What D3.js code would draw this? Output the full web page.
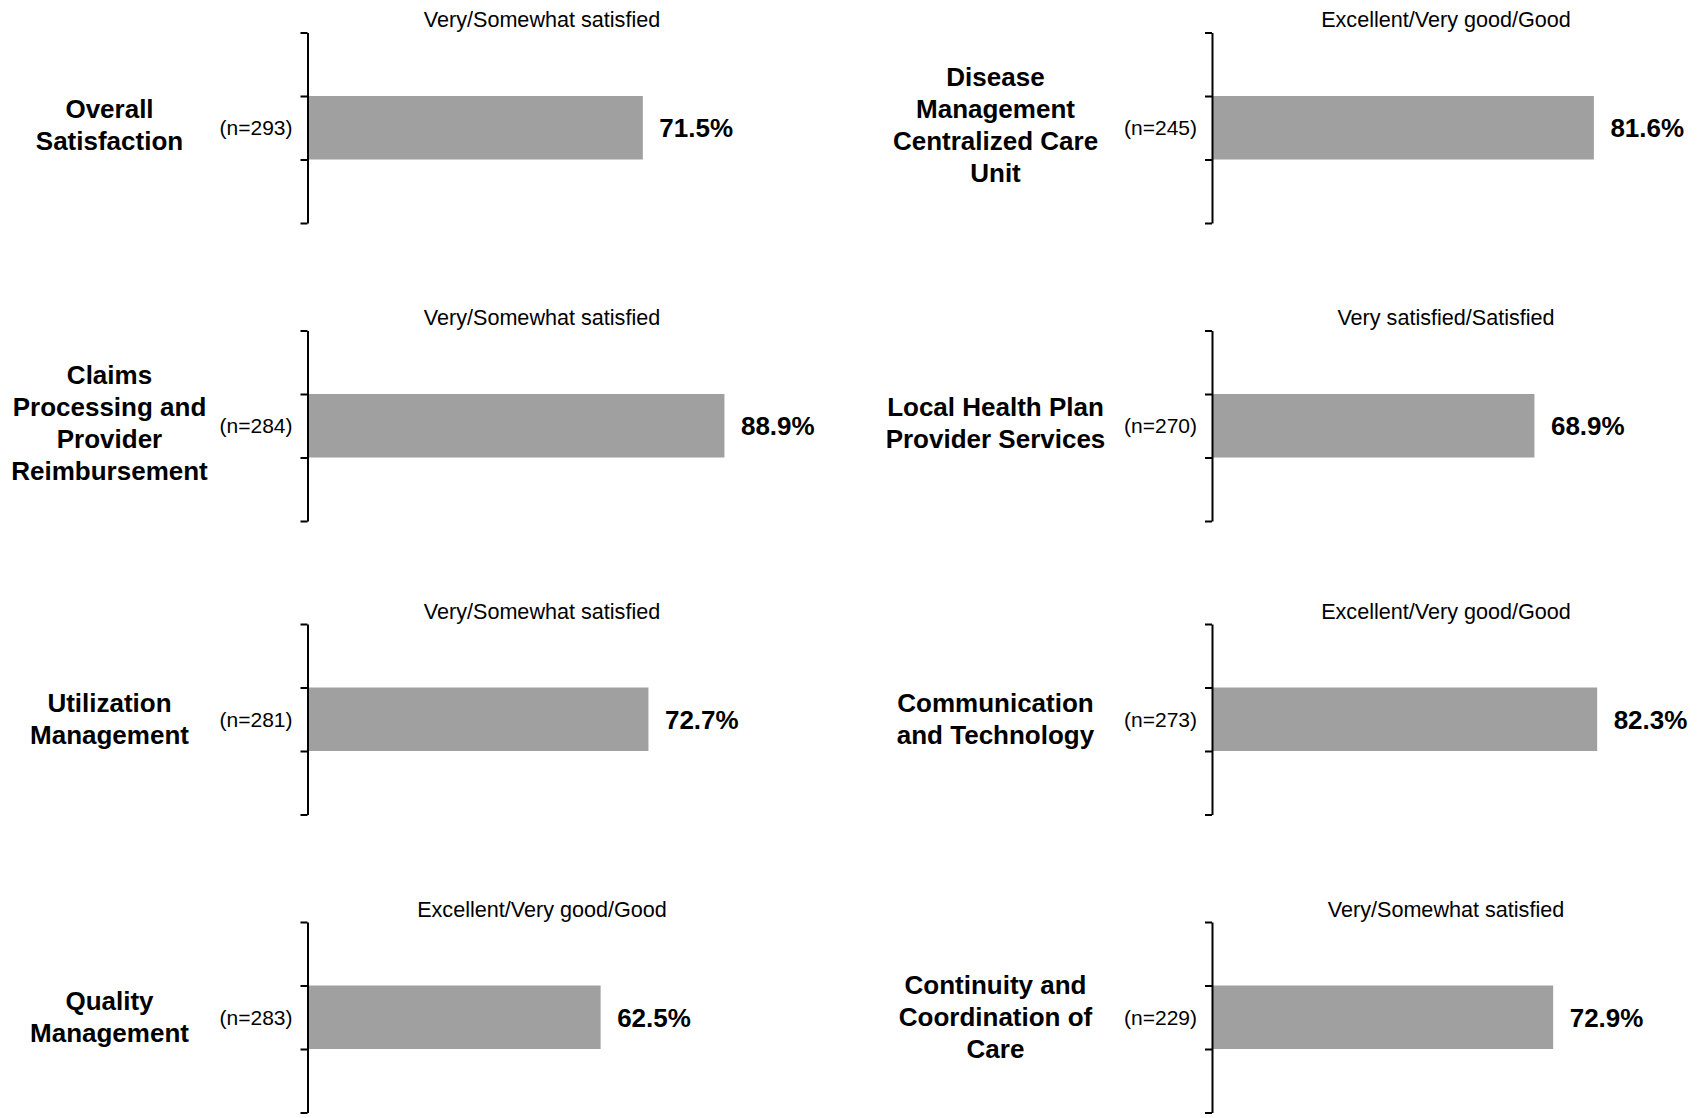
<!DOCTYPE html>
<html>
<head>
<meta charset="utf-8">
<script src="https://cdn.jsdelivr.net/npm/d3@7"></script>
<style>
  html, body { margin: 0; padding: 0; background: #ffffff; }
  svg { display: block; }
  text { font-family: "Liberation Sans", Arial, Helvetica, sans-serif; fill: #000; }
</style>
</head>
<body>
<svg id="chart" width="1700" height="1118"></svg>
<script>
// Survey domains, read row by row (left panel, then right panel)
const categories = [
  ["Overall", "Satisfaction"],
  ["Disease", "Management", "Centralized Care", "Unit"],
  ["Claims", "Processing and", "Provider", "Reimbursement"],
  ["Local Health Plan", "Provider Services"],
  ["Utilization", "Management"],
  ["Communication", "and Technology"],
  ["Quality", "Management"],
  ["Continuity and", "Coordination of", "Care"]
];
// Share of respondents giving a positive rating (%)
const values = [71.5, 81.6, 88.9, 68.9, 72.7, 82.3, 62.5, 72.9];
// Number of respondents per domain
const sampleSizes = [293, 245, 284, 270, 281, 273, 283, 229];
// Response categories counted as positive
const measures = [
  "Very/Somewhat satisfied",
  "Excellent/Very good/Good",
  "Very/Somewhat satisfied",
  "Very satisfied/Satisfied",
  "Very/Somewhat satisfied",
  "Excellent/Very good/Good",
  "Excellent/Very good/Good",
  "Very/Somewhat satisfied"
];

// Layout of the 2 x 4 grid of small panels
const columns = [
  { axisX: 307.5, width: 469, labelX: 109.5 },
  { axisX: 1212, width: 468, labelX: 995.5 }
];
const rowTops = [32.5, 330.5, 624, 922];
const rowLabelShift = [0, 0, 3, 3];
const rowHeight = 190.5;
const lineStep = 32;

const svg = d3.select("#chart");

categories.forEach((lines, i) => {
  const col = columns[i % 2];
  const row = Math.floor(i / 2);
  const top = rowTops[row];

  const x = d3.scaleLinear().domain([0, 100]).range([col.axisX, col.axisX + col.width]);
  // three equal slots; the bar fills the middle one
  const y = d3.scaleLinear().domain([0, 3]).range([top, top + rowHeight]);
  const yMid = y(1.5);

  const g = svg.append("g");

  // bar
  g.append("rect")
    .attr("x", x(0))
    .attr("y", y(1))
    .attr("width", x(values[i]) - x(0))
    .attr("height", y(2) - y(1))
    .attr("fill", "#a0a0a0");

  // vertical axis with outward ticks at slot boundaries
  const axis = d3.axisLeft(y)
    .tickValues([0, 1, 2, 3])
    .tickSizeInner(7)
    .tickSizeOuter(0)
    .tickFormat("");
  const ax = g.append("g")
    .attr("transform", `translate(${x(0)},0)`)
    .call(axis);
  ax.select(".domain").attr("stroke", "#000").attr("stroke-width", 2);
  ax.selectAll(".tick line").attr("stroke", "#000").attr("stroke-width", 2);

  // response-category caption above the panel
  g.append("text")
    .attr("x", x(50))
    .attr("y", top - 5.5)
    .attr("text-anchor", "middle")
    .style("font-size", "21.6px")
    .text(measures[i]);

  // sample size
  g.append("text")
    .attr("x", x(0) - 15)
    .attr("y", yMid + 7.4)
    .attr("text-anchor", "end")
    .style("font-size", "21px")
    .text(`(n=${sampleSizes[i]})`);

  // value label at the end of the bar
  g.append("text")
    .attr("x", x(values[i]) + 16.5)
    .attr("y", yMid + 9.5)
    .attr("text-anchor", "start")
    .style("font-size", "26px")
    .style("font-weight", "bold")
    .text(`${values[i].toFixed(1)}%`);

  // domain name, centred on the bar
  const label = g.append("text")
    .attr("text-anchor", "middle")
    .style("font-size", "26px")
    .style("font-weight", "bold");
  lines.forEach((ln, k) => {
    label.append("tspan")
      .attr("x", col.labelX)
      .attr("y", yMid + (k - (lines.length - 1) / 2) * lineStep + 6 + rowLabelShift[row])
      .text(ln);
  });
});
</script>
</body>
</html>
